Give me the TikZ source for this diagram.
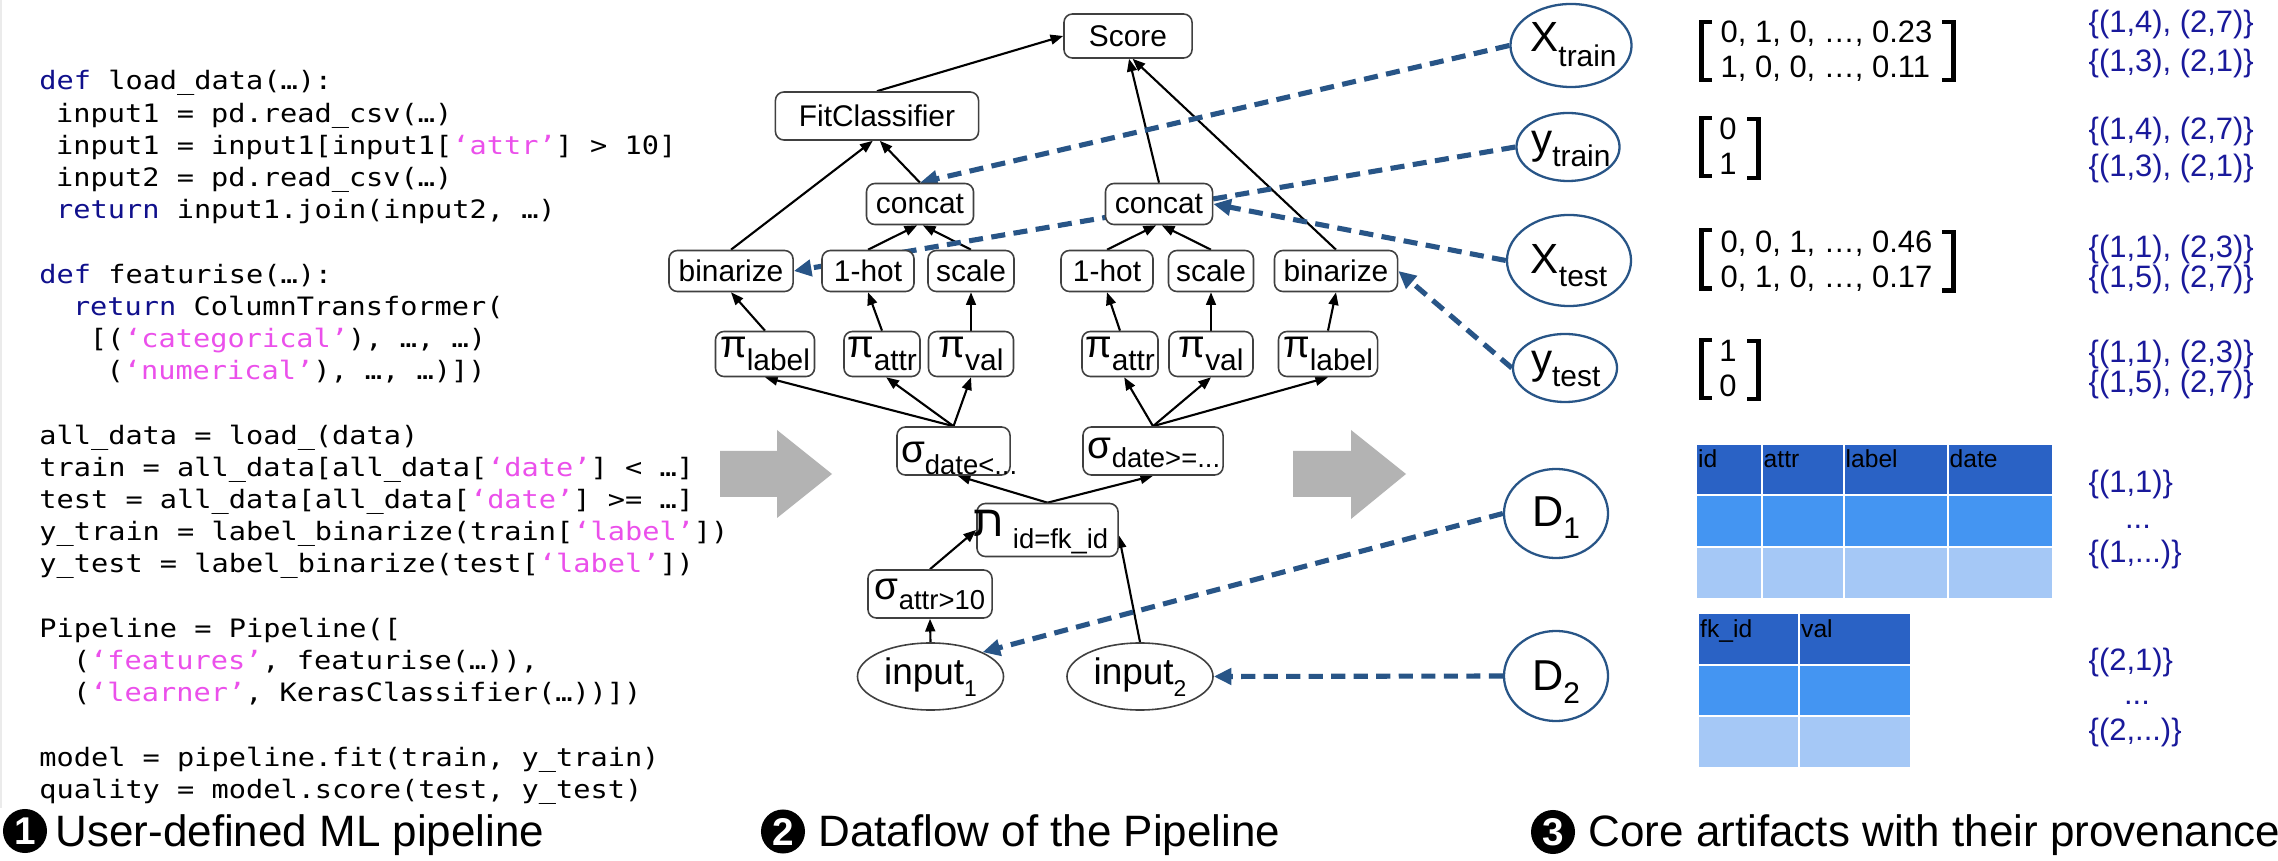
\documentclass[tikz,border=0pt]{standalone}
\usepackage{fontspec}
\usepackage{graphicx}
\setmainfont{Liberation Sans}
\newfontfamily\codefont[FakeStretch=1.13]{DejaVu Sans Mono}
\newfontfamily\hebfont[Script=Hebrew]{Liberation Sans}
\usetikzlibrary{arrows.meta,shapes.geometric,calc}
\definecolor{kw}{RGB}{16,16,140}
\definecolor{strc}{RGB}{235,80,235}
\definecolor{dblue}{RGB}{40,85,135}
\definecolor{prov}{RGB}{25,25,155}
\definecolor{hdr}{RGB}{42,98,197}
\definecolor{rowa}{RGB}{68,149,242}
\definecolor{rowb}{RGB}{165,200,246}
\definecolor{grayarrow}{RGB}{179,179,179}
\pgfdeclarelayer{bgl}
\pgfdeclarelayer{edges}
\pgfsetlayers{bgl,edges,main}
\newcommand\kw[1]{\textcolor{kw}{#1}}
\newcommand\st[1]{\textcolor{strc}{#1}}
\newcommand\lsub[3]{\raisebox{-#1}{\fontsize{#2}{#2}\selectfont #3}}
\newcommand\zplace[3]{\makebox[0pt]{\hspace*{#1}\raisebox{#2}[0pt][0pt]{#3}}}
\begin{document}
\begin{tikzpicture}[x=0.01cm,y=-0.01cm,
  box/.style={draw=black!75, line width=0.45pt, rounded corners=2.4pt, fill=white, inner sep=0pt, font=\fontsize{8.5}{10}\selectfont},
  inp/.style={ellipse, draw=black!75, line width=0.45pt, fill=white, inner sep=0pt},
  art/.style={ellipse, draw=dblue, line width=0.65pt, fill=white, inner sep=0pt},
  arr/.style={-{Triangle[length=3.6pt,width=2.8pt]}, line width=0.6pt, black},
  provl/.style={dblue, line width=1.45pt, dash pattern=on 4pt off 2.4pt, -{Triangle[length=5pt,width=4.6pt]}},
  code/.style={anchor=base west, inner sep=0pt, font=\codefont\fontsize{7.2}{8}\selectfont},
  mat/.style={anchor=base west, inner sep=0pt, font=\fontsize{8.8}{10}\selectfont},
  matc/.style={anchor=base, inner sep=0pt, font=\fontsize{8.8}{10}\selectfont},
  pv/.style={anchor=base west, inner sep=0pt, text=prov, font=\fontsize{8.8}{10}\selectfont},
  pvc/.style={anchor=base, inner sep=0pt, text=prov, font=\fontsize{8.8}{10}\selectfont},
  hd/.style={anchor=base west, inner sep=0pt, font=\fontsize{7}{8}\selectfont},
  num/.style={circle, fill=black, text=white, inner sep=0pt, minimum size=4.4mm, font=\bfseries\fontsize{11}{12}\selectfont},
  ttl/.style={anchor=base west, inner sep=0pt, font=\fontsize{12.5}{14}\selectfont},
  brk/.style={line width=1.25pt, miter limit=10}
]
\useasboundingbox (0,0) rectangle (2278,861);
\begin{pgfonlayer}{bgl}
\fill[white] (0,0) rectangle (2278,861);
\draw[black!8, line width=0.6pt] (1,0) -- (1,808);
\end{pgfonlayer}

% ---------- code ----------
\node[code] (c1) at (38.7,90) {\kw{def} load\_data(…):};
\node[code] (c2) at (55.5,122.2) {input1 = pd.read\_csv(…)};
\node[code] (c3) at (55.5,154.4) {input1 = input1[input1[\st{‘attr’}] > 10]};
\node[code] (c4) at (55.5,186.6) {input2 = pd.read\_csv(…)};
\node[code] (c5) at (55.5,218.8) {\kw{return} input1.join(input2, …)};
\node[code] (c7) at (38.7,283.2) {\kw{def} featurise(…):};
\node[code] (c8) at (72.3,315.4) {\kw{return} ColumnTransformer(};
\node[code] (c9) at (89.1,347.6) {[(\st{‘categorical’}), …, …)};
\node[code] (c10) at (105.9,379.8) {(\st{‘numerical’}), …, …)])};
\node[code] (c12) at (38.7,444.2) {all\_data = load\_(data)};
\node[code] (c13) at (38.7,476.4) {train = all\_data[all\_data[\st{‘date’}] < …]};
\node[code] (c14) at (38.7,508.6) {test = all\_data[all\_data[\st{‘date’}] >= …]};
\node[code] (c15) at (38.7,540.8) {y\_train = label\_binarize(train[\st{‘label’}])};
\node[code] (c16) at (38.7,573) {y\_test = label\_binarize(test[\st{‘label’}])};
\node[code] (c18) at (38.7,637.4) {Pipeline = Pipeline([};
\node[code] (c19) at (72.3,669.6) {(\st{‘features’}, featurise(…)),};
\node[code] (c20) at (72.3,701.8) {(\st{‘learner’}, KerasClassifier(…))])};
\node[code] (c22) at (38.7,766.2) {model = pipeline.fit(train, y\_train)};
\node[code] (c23) at (38.7,798.4) {quality = model.score(test, y\_test)};

% ---------- gray arrows ----------
\fill[grayarrow] (720,451) -- (777,451) -- (777,430) -- (832,474) -- (777,518) -- (777,497) -- (720,497) -- cycle;
\fill[grayarrow] (1293,451) -- (1351,451) -- (1351,430) -- (1406,474) -- (1351,519) -- (1351,497) -- (1293,497) -- cycle;

% ---------- dataflow nodes ----------
\node[box, minimum width=12.8mm, minimum height=4.4mm] (score) at (1128,36) {Score};
\node[box, minimum width=20.3mm, minimum height=4.8mm] (fit) at (877,116) {FitClassifier};
\node[box, minimum width=10.7mm, minimum height=4.1mm] (catL) at (920,204) {concat};
\node[box, minimum width=10.7mm, minimum height=4.1mm] (catR) at (1159,204) {concat};
\node[box, minimum width=12.4mm, minimum height=4.1mm] (binL) at (731,271) {binarize};
\node[box, minimum width=9.2mm, minimum height=4.1mm] (hotL) at (868,271) {1-hot};
\node[box, minimum width=8.6mm, minimum height=4.1mm] (sclL) at (971,271) {scale};
\node[box, minimum width=9.2mm, minimum height=4.1mm] (hotR) at (1107,271) {1-hot};
\node[box, minimum width=8.5mm, minimum height=4.1mm] (sclR) at (1211,271) {scale};
\node[box, minimum width=12.3mm, minimum height=4.1mm] (binR) at (1336,271) {binarize};
\node[box, minimum width=9.9mm, minimum height=4.5mm] (plL) at (765,354) {{\fontsize{11}{11}\selectfont π}\lsub{3.5pt}{8.5}{label}};
\node[box, minimum width=7.6mm, minimum height=4.5mm] (paL) at (882,354) {{\fontsize{11}{11}\selectfont π}\lsub{3.5pt}{8.5}{attr}};
\node[box, minimum width=8.5mm, minimum height=4.5mm] (pvL) at (971,354) {{\fontsize{11}{11}\selectfont π}\lsub{3.5pt}{8.5}{val}};
\node[box, minimum width=7.6mm, minimum height=4.5mm] (paR) at (1120,354) {{\fontsize{11}{11}\selectfont π}\lsub{3.5pt}{8.5}{attr}};
\node[box, minimum width=8.4mm, minimum height=4.5mm] (pvR) at (1211,354) {{\fontsize{11}{11}\selectfont π}\lsub{3.5pt}{8.5}{val}};
\node[box, minimum width=9.9mm, minimum height=4.5mm] (plR) at (1328,354) {{\fontsize{11}{11}\selectfont π}\lsub{3.5pt}{8.5}{label}};
\node[box, minimum width=11.3mm, minimum height=4.8mm] (sdL) at (953.5,451) {\zplace{3.2pt}{-3.4pt}{{\fontsize{11}{11}\selectfont σ}\lsub{3.4pt}{7.8}{date<...}}};
\node[box, minimum width=14mm, minimum height=4.8mm] (sdR) at (1153,451) {\zplace{0.6pt}{-2pt}{{\fontsize{11}{11}\selectfont σ}\lsub{2.8pt}{7.8}{date>=...}}};
\node[box, minimum width=14.1mm, minimum height=5.3mm] (join) at (1047.5,530) {\zplace{-3.7pt}{-1.9pt}{{\hebfont\fontsize{12.5}{12.5}\selectfont ת}\hspace{2.5pt}\lsub{3.3pt}{7.8}{id=fk\_id}}};
\node[box, minimum width=12.4mm, minimum height=4.8mm] (sa) at (930,594) {{\fontsize{11}{11}\selectfont σ}\lsub{2.8pt}{7.8}{attr>10}};
\node[inp, minimum width=14.6mm, minimum height=6.7mm] (in1) at (930.5,676.5) {\zplace{0pt}{-2.4pt}{{\fontsize{10.5}{10.5}\selectfont input}\lsub{3.3pt}{6.5}{1}}};
\node[inp, minimum width=14.6mm, minimum height=6.7mm] (in2) at (1140,676.5) {\zplace{0pt}{-2.4pt}{{\fontsize{10.5}{10.5}\selectfont input}\lsub{3.3pt}{6.5}{2}}};

% ---------- artifacts ----------
\node[art, minimum width=12.1mm, minimum height=8.3mm] (xtr) at (1571,45.5) {\zplace{1.4pt}{-1.7pt}{{\fontsize{12}{12}\selectfont X}\lsub{4.2pt}{8.5}{train}}};
\node[art, minimum width=10.3mm, minimum height=6.8mm] (ytr) at (1568,147) {\zplace{1.6pt}{-1.8pt}{{\fontsize{12}{12}\selectfont y}\lsub{3.8pt}{8.5}{train}}};
\node[art, minimum width=12.4mm, minimum height=9.1mm] (xte) at (1569,260.5) {\zplace{0pt}{-3.6pt}{{\fontsize{12}{12}\selectfont X}\lsub{3.8pt}{8.5}{test}}};
\node[art, minimum width=10.4mm, minimum height=6.8mm] (yte) at (1565,368) {\zplace{0.4pt}{-1.5pt}{{\fontsize{12}{12}\selectfont y}\lsub{3.8pt}{8.5}{test}}};
\node[art, minimum width=10.4mm, minimum height=8.9mm] (d1) at (1556,513.5) {\zplace{0pt}{-3.6pt}{{\fontsize{12.3}{12.3}\selectfont D}\lsub{3.5pt}{8.5}{1}}};
\node[art, minimum width=10.4mm, minimum height=9mm] (d2) at (1556,676) {\zplace{0pt}{-4.2pt}{{\fontsize{12.3}{12.3}\selectfont D}\lsub{3.6pt}{8.5}{2}}};

% ---------- edges ----------
\begin{pgfonlayer}{edges}
\draw[arr] (fit.north) -- (score.west);
\draw[arr] (binL.north) -- ([xshift=-1.2pt]fit.south);
\draw[arr] (catL.north) -- ([xshift=0.8pt]fit.south);
\draw[arr] (hotL.north) -- ([xshift=-0.8pt]catL.south);
\draw[arr] (sclL.north) -- ([xshift=0.8pt]catL.south);
\draw[arr] (hotR.north) -- ([xshift=-0.8pt]catR.south);
\draw[arr] (sclR.north) -- ([xshift=0.8pt]catR.south);
\draw[arr] (catR.north) -- ([xshift=0.3pt]score.south);
\draw[arr] (binR.north) -- ([xshift=1.3pt]score.south);
\draw[arr] (plL.north) -- (binL.south);
\draw[arr] (paL.north) -- (hotL.south);
\draw[arr] (pvL.north) -- (sclL.south);
\draw[arr] (paR.north) -- (hotR.south);
\draw[arr] (pvR.north) -- (sclR.south);
\draw[arr] (plR.north) -- (binR.south);
\draw[arr] (sdL.north) -- (plL.south);
\draw[arr] (sdL.north) -- ([xshift=1.2pt]paL.south);
\draw[arr] (sdL.north) -- (pvL.south);
\draw[arr] (sdR.north) -- ([xshift=1.2pt]paR.south);
\draw[arr] (sdR.north) -- (pvR.south);
\draw[arr] (sdR.north) -- (plR.south);
\draw[arr] (join.north) -- ([xshift=1.2pt]sdL.south);
\draw[arr] (join.north) -- (sdR.south);
\draw[arr] (sa.north) -- (join.west);
\draw[arr] (in2.north) -- ([yshift=-1.5pt]join.east);
\draw[arr] (in1.north) -- (sa.south);
\draw[provl] (xtr.west) -- (catL.north);
\draw[provl] (ytr.west) -- (binL.east);
\draw[provl] (xte.west) -- (catR.east);
\draw[provl] (yte.west) -- (binR.east);
\draw[provl] (d1.west) -- (in1.25);
\draw[provl] (d2.west) -- (in2.east);
\end{pgfonlayer}

% ---------- matrices ----------
\draw[brk] (1712,22) -- (1701.5,22) -- (1701.5,80) -- (1712,80);
\draw[brk] (1942,22) -- (1953.5,22) -- (1953.5,80) -- (1942,80);
\node[mat] (m1a) at (1720,43) {0, 1, 0, …, 0.23};
\node[mat] (m1b) at (1720,78) {1, 0, 0, …, 0.11};
\draw[brk] (1712,118) -- (1701.5,118) -- (1701.5,176) -- (1712,176);
\draw[brk] (1747,119) -- (1758.5,119) -- (1758.5,178) -- (1747,178);
\node[matc] (m2a) at (1728,140) {0};
\node[matc] (m2b) at (1728,175) {1};
\draw[brk] (1712,230) -- (1701.5,230) -- (1701.5,288.7) -- (1712,288.7);
\draw[brk] (1942,232) -- (1953.5,232) -- (1953.5,290.7) -- (1942,290.7);
\node[mat] (m3a) at (1720,253) {0, 0, 1, …, 0.46};
\node[mat] (m3b) at (1720,288) {0, 1, 0, …, 0.17};
\draw[brk] (1712,340) -- (1701.5,340) -- (1701.5,398) -- (1712,398);
\draw[brk] (1747,341) -- (1758.5,341) -- (1758.5,399) -- (1747,399);
\node[matc] (m4a) at (1728,361.7) {1};
\node[matc] (m4b) at (1728,396.7) {0};

% ---------- tables ----------
\fill[hdr] (1697,445) rectangle (2052,495);
\fill[rowa] (1697,495) rectangle (2052,547);
\fill[rowb] (1697,547) rectangle (2052,598);
\draw[white, line width=0.5pt] (1697,495) -- (2052,495) (1697,547) -- (2052,547)
  (1762,445) -- (1762,598) (1844,445) -- (1844,598) (1948,445) -- (1948,598);
\node[hd] (h1) at (1697.5,468) {id};
\node[hd] (h2) at (1763,468) {attr};
\node[hd] (h3) at (1845,468) {label};
\node[hd] (h4) at (1949,468) {date};
\fill[hdr] (1699,614) rectangle (1910,665);
\fill[rowa] (1699,665) rectangle (1910,716);
\fill[rowb] (1699,716) rectangle (1910,767);
\draw[white, line width=0.5pt] (1699,665) -- (1910,665) (1699,716) -- (1910,716)
  (1799,614) -- (1799,767);
\node[hd] (h5) at (1699.5,637) {fk\_id};
\node[hd] (h6) at (1800.5,637) {val};

% ---------- provenance ----------
\node[pv] (p1) at (2088,33) {\{(1,4), (2,7)\}};
\node[pv] (p2) at (2088,71.7) {\{(1,3), (2,1)\}};
\node[pv] (p3) at (2088,140) {\{(1,4), (2,7)\}};
\node[pv] (p4) at (2088,176.7) {\{(1,3), (2,1)\}};
\node[pv] (p5) at (2088,258) {\{(1,1), (2,3)\}};
\node[pv] (p6) at (2088,288) {\{(1,5), (2,7)\}};
\node[pv] (p7) at (2088,363) {\{(1,1), (2,3)\}};
\node[pv] (p8) at (2088,393) {\{(1,5), (2,7)\}};
\node[pv] (p9) at (2088,493) {\{(1,1)\}};
\node[pvc] (p10) at (2138,529) {...};
\node[pv] (p11) at (2088,563) {\{(1,...)\}};
\node[pv] (p12) at (2088,670) {\{(2,1)\}};
\node[pvc] (p13) at (2137,705) {...};
\node[pv] (p14) at (2088,740) {\{(2,...)\}};

% ---------- titles ----------
\node[num] (n1) at (25,831) {1};
\node[ttl] (t1) at (55,846.7) {User-defined ML pipeline};
\node[num] (n2) at (783,831.5) {2};
\node[ttl] (t2) at (817.7,846.7) {Dataflow of the Pipeline};
\node[num] (n3) at (1553,832) {3};
\node[ttl] (t3) at (1588,846.7) {Core artifacts with their provenance};
\end{tikzpicture}
\end{document}
